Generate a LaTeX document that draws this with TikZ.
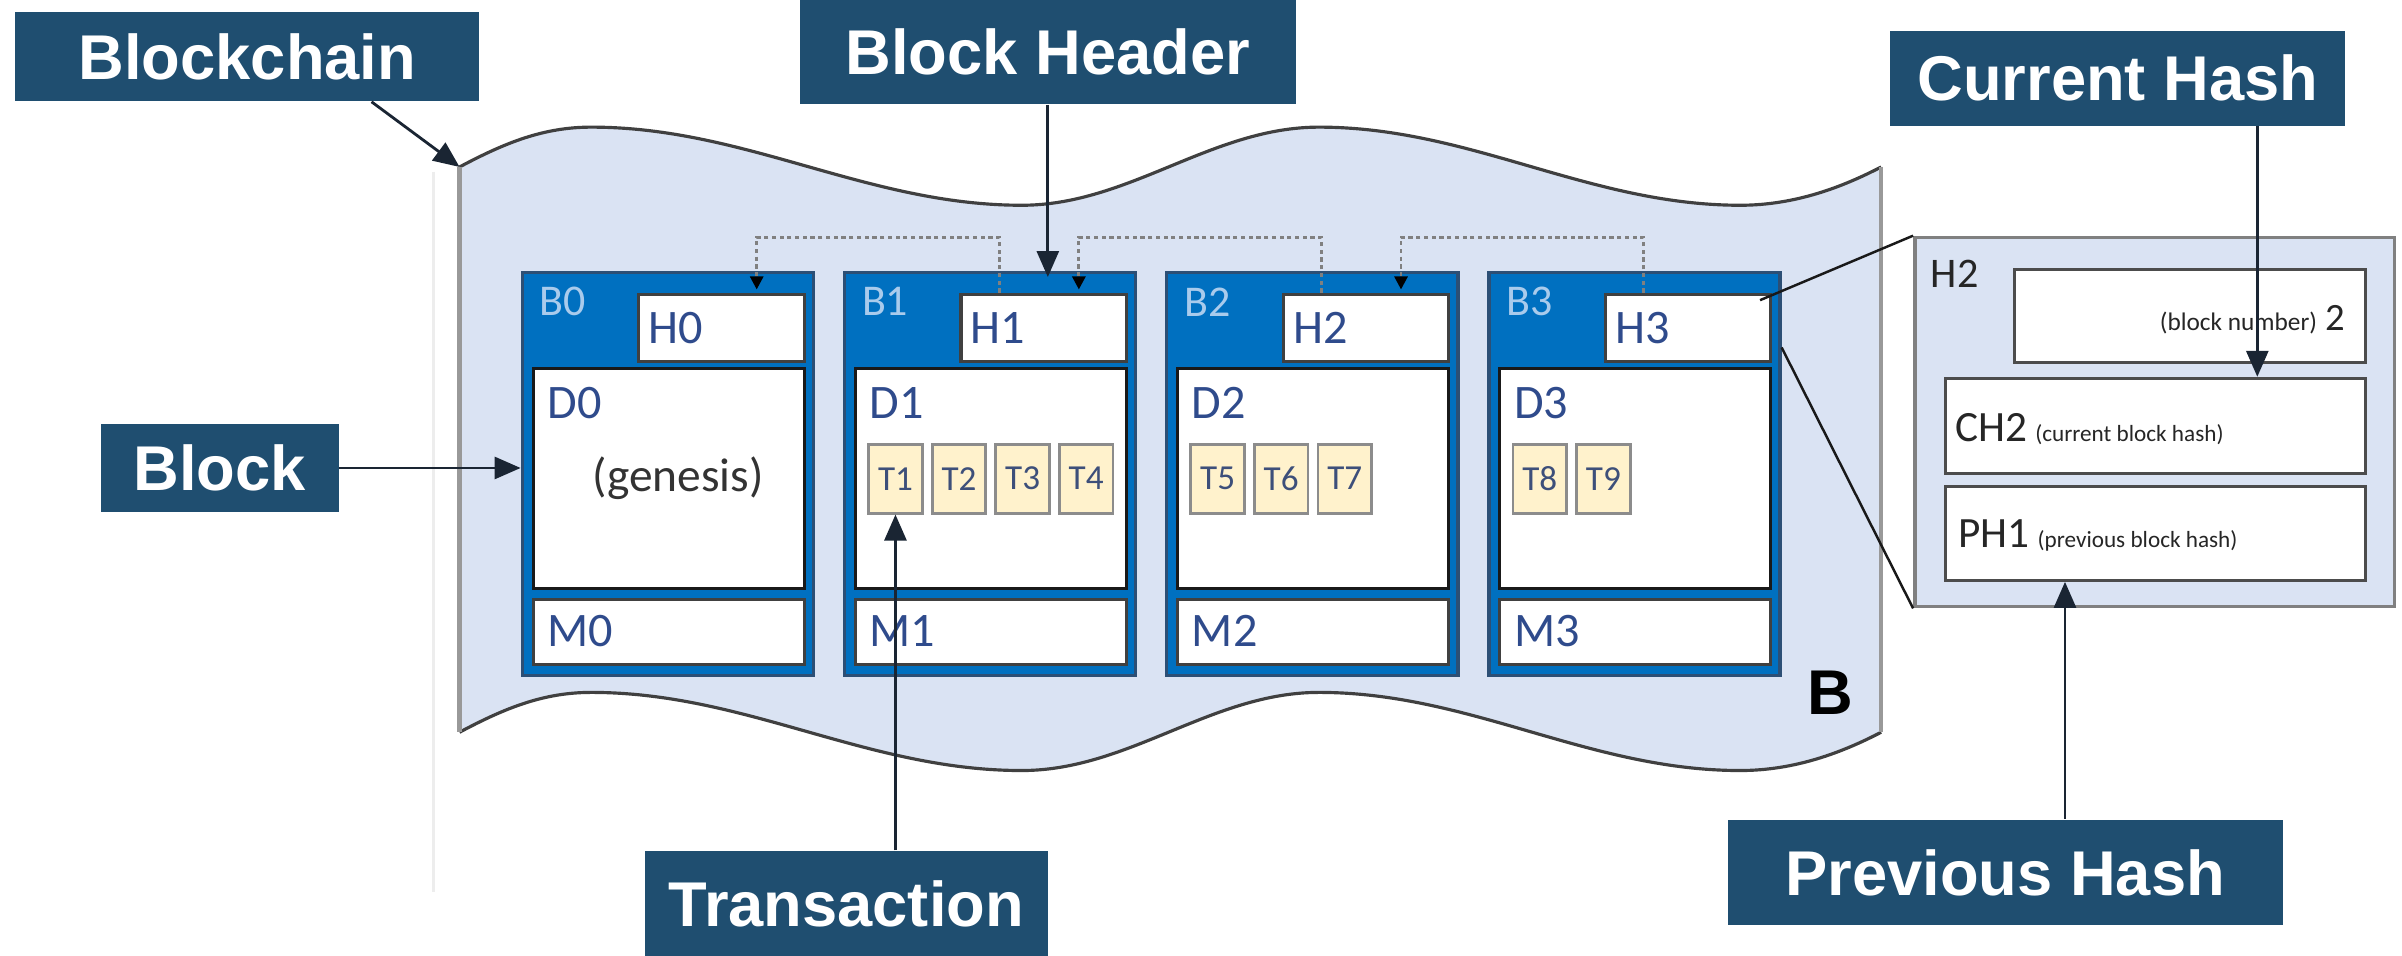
\documentclass[tikz,border=0pt]{standalone}
\usepackage{fontspec}
\setmainfont{Carlito}
\newfontfamily\arialfont{Liberation Sans}
\usetikzlibrary{arrows.meta,calc}
\definecolor{blobfill}{HTML}{DAE3F3}
\definecolor{labelblue}{HTML}{1F4E70}
\definecolor{blockblue}{HTML}{0070C0}
\definecolor{blockedge}{HTML}{2C4F75}
\definecolor{textnavy}{HTML}{2F4B8C}
\definecolor{blabel}{HTML}{A9CBEC}
\definecolor{tfill}{HTML}{FFF2CC}
\definecolor{tnavy}{HTML}{3D4F7A}
\definecolor{arrowdark}{HTML}{1A2533}
\definecolor{ptext}{HTML}{262626}
\def\ux{0.01532cm}
\tikzset{
  lbl/.style={fill=labelblue, text=white, font=\arialfont\bfseries\fontsize{18}{20}\selectfont, inner sep=0pt},
  blockbox/.style={fill=blockblue, draw=blockedge, line width=1pt, inner sep=0pt},
  inbox/.style={fill=white, draw=black!75, line width=0.9pt, inner sep=0pt},
  tbox/.style={fill=tfill, draw=black!45, line width=0.8pt, minimum width=35*\ux, minimum height=45*\ux, inner sep=0pt, text=tnavy, font=\fontsize{10}{12}\selectfont},
  conn/.style={draw=arrowdark, line width=0.8pt, -{Triangle[length=0.26cm,width=0.22cm]}},
  dotc/.style={draw=black!50, line width=0.8pt, dash pattern=on 1.2pt off 1pt, -{Triangle[length=0.13cm,width=0.13cm,color=black]}},
  btxt/.style={anchor=west, text=textnavy, font=\fontsize{13.7}{16}\selectfont, inner sep=0pt},
  blbl/.style={anchor=west, text=blabel, font=\fontsize{12.5}{15}\selectfont, inner sep=0pt},
  wave/.style={black!75, line width=0.9pt},
}
\begin{document}
\begin{tikzpicture}[x=0.01532cm,y=-0.01532cm]
\useasboundingbox (0,0) rectangle (1568,624);
% faint line
\draw[black!7, line width=0.6pt] (283,112) -- (283,582);
% blob
\fill[blobfill] (300,109) .. controls (330,93) and (355,83) .. (386,83)
  .. controls (487,83) and (566,134) .. (667,134)
  .. controls (737,134) and (791,83) .. (861,83)
  .. controls (960,83) and (1037,134) .. (1136,134)
  .. controls (1172,134) and (1203,122) .. (1228,109)
  -- (1228,478)
  .. controls (1203,491) and (1172,503) .. (1136,503)
  .. controls (1037,503) and (960,452) .. (861,452)
  .. controls (791,452) and (737,503) .. (667,503)
  .. controls (566,503) and (487,452) .. (386,452)
  .. controls (355,452) and (330,462) .. (300,478) -- cycle;
\draw[wave] (300,109) .. controls (330,93) and (355,83) .. (386,83)
  .. controls (487,83) and (566,134) .. (667,134)
  .. controls (737,134) and (791,83) .. (861,83)
  .. controls (960,83) and (1037,134) .. (1136,134)
  .. controls (1172,134) and (1203,122) .. (1228,109);
\draw[wave] (300,478) .. controls (330,462) and (355,452) .. (386,452)
  .. controls (487,452) and (566,503) .. (667,503)
  .. controls (737,503) and (791,452) .. (861,452)
  .. controls (960,452) and (1037,503) .. (1136,503)
  .. controls (1172,503) and (1203,491) .. (1228,478);
\draw[black!40, line width=1.2pt] (300,109) -- (300,478) (1228,109) -- (1228,478);
\coordinate (blobTL) at (300,109);
% blocks
\foreach \i in {0,1,2,3}{
  \pgfmathsetmacro\xo{341+210.3*\i}
  \node[blockbox, minimum width=190*\ux, minimum height=263*\ux] (b\i) at (\xo+95,309.5) {};
  \node[inbox, minimum width=108*\ux, minimum height=44*\ux] (h\i) at (\xo+130,214) {};
  \node[inbox, draw=black!90, minimum width=177*\ux, minimum height=143.5*\ux] (d\i) at (\xo+95.5,312.2) {};
  \node[inbox, minimum width=177*\ux, minimum height=42.4*\ux] (m\i) at (\xo+95.5,412.8) {};
  \node[blbl] (bl\i) at (\xo+11,197) {B\i};
  \node[btxt] (hl\i) at (\xo+82,214) {H\i};
  \node[btxt] (dl\i) at (\xo+16,263) {D\i};
  \node[btxt] (ml\i) at (\xo+16,412) {M\i};
}
\node[anchor=center, text=black!80, font=\fontsize{13.5}{16}\selectfont, inner sep=0pt] (gen) at (442.6,312) {(genesis)};
% transactions
\foreach \blk/\first/\n in {1/1/4,2/5/3,3/8/2}{
  \pgfmathsetmacro\xo{341+210.3*\blk}
  \pgfmathtruncatemacro\last{\first+\n-1}
  \foreach \t in {\first,...,\last}{
    \pgfmathsetmacro\k{\t-\first}
    \node[tbox] (t\t) at (\xo+33.25+41.5*\k,312.5) {T\t};
  }
}
% dotted hash links
\foreach \i/\j in {1/0,2/1,3/2}{
  \draw[dotc] ($(h\i.north west)+(26,0)$) -- ++(0,-36) -| ($(h\j.north west)+(78,-2)$);
}
% detail panel
\node[fill=blobfill, draw=black!50, line width=1pt, minimum width=313*\ux, minimum height=241*\ux, inner sep=0pt] (panel) at (1406.5,275.5) {};
\node[inbox, draw=black!70, minimum width=229*\ux, minimum height=61*\ux] (bnb) at (1429.5,206.3) {};
\node[inbox, draw=black!70, minimum width=274*\ux, minimum height=62*\ux] (chb) at (1407,278) {};
\node[inbox, draw=black!70, minimum width=274*\ux, minimum height=61*\ux] (phb) at (1407,348.3) {};
\node[anchor=west, text=ptext, font=\fontsize{12}{14}\selectfont, inner sep=0pt] (h2p) at (1260,179) {H2};
\node[anchor=base east, text=ptext, inner sep=0pt] (bnt) at (1531,215.5) {{\fontsize{7.2}{9}\selectfont (block number)} {\fontsize{11}{13}\selectfont 2}};
\node[anchor=base west, text=ptext, inner sep=0pt] (cht) at (1276,288) {{\fontsize{12.3}{14}\selectfont CH2} {\fontsize{6.6}{8}\selectfont (current block hash)}};
\node[anchor=base west, text=ptext, inner sep=0pt] (pht) at (1278,357.7) {{\fontsize{12.3}{14}\selectfont PH1} {\fontsize{6.6}{8}\selectfont (previous block hash)}};
% zoom lines
\draw[black!90, line width=0.7pt] ($(h3.north east)+(-8,5)$) -- (panel.north west);
\draw[black!90, line width=0.7pt] ($(b3.north east)+(0,50)$) -- (panel.south west);
% big B
\node[font=\arialfont\bfseries\fontsize{18}{20}\selectfont, text=black, inner sep=0pt] (bigb) at (1195,452) {B};
% labels
\node[lbl, minimum width=303*\ux, minimum height=58*\ux] (lblchain) at (161.5,37) {Blockchain};
\node[lbl, minimum width=324*\ux, minimum height=68*\ux] (lblhead) at (684,34) {Block Header};
\node[lbl, minimum width=297*\ux, minimum height=62*\ux] (lblcur) at (1382.5,51) {Current Hash};
\node[lbl, minimum width=155*\ux, minimum height=57*\ux] (lblblock) at (143.5,305.5) {Block};
\node[lbl, minimum width=263*\ux, minimum height=69*\ux] (lbltx) at (552.5,590) {Transaction};
\node[lbl, minimum width=362*\ux, minimum height=69*\ux] (lblprev) at (1309,569.5) {Previous Hash};
% label connectors
\draw[conn] ($(lblchain.south west)+(233,0)$) -- (blobTL);
\draw[conn] (lblhead.south) -- ($(lblhead.south |- b1.north)+(0,4)$);
\draw[conn] (lblblock.east) -- (lblblock.east -| b0.west);
\draw[conn] (lbltx.north -| t1.south) -- (t1.south);
\draw[conn] ($(lblcur.south west)+(240,0)$) coordinate (ca) -- (ca |- chb.north);
\draw[conn] ($(lblprev.north)+(39,0)$) coordinate (pa) -- (pa |- phb.south);
\end{tikzpicture}
\end{document}
